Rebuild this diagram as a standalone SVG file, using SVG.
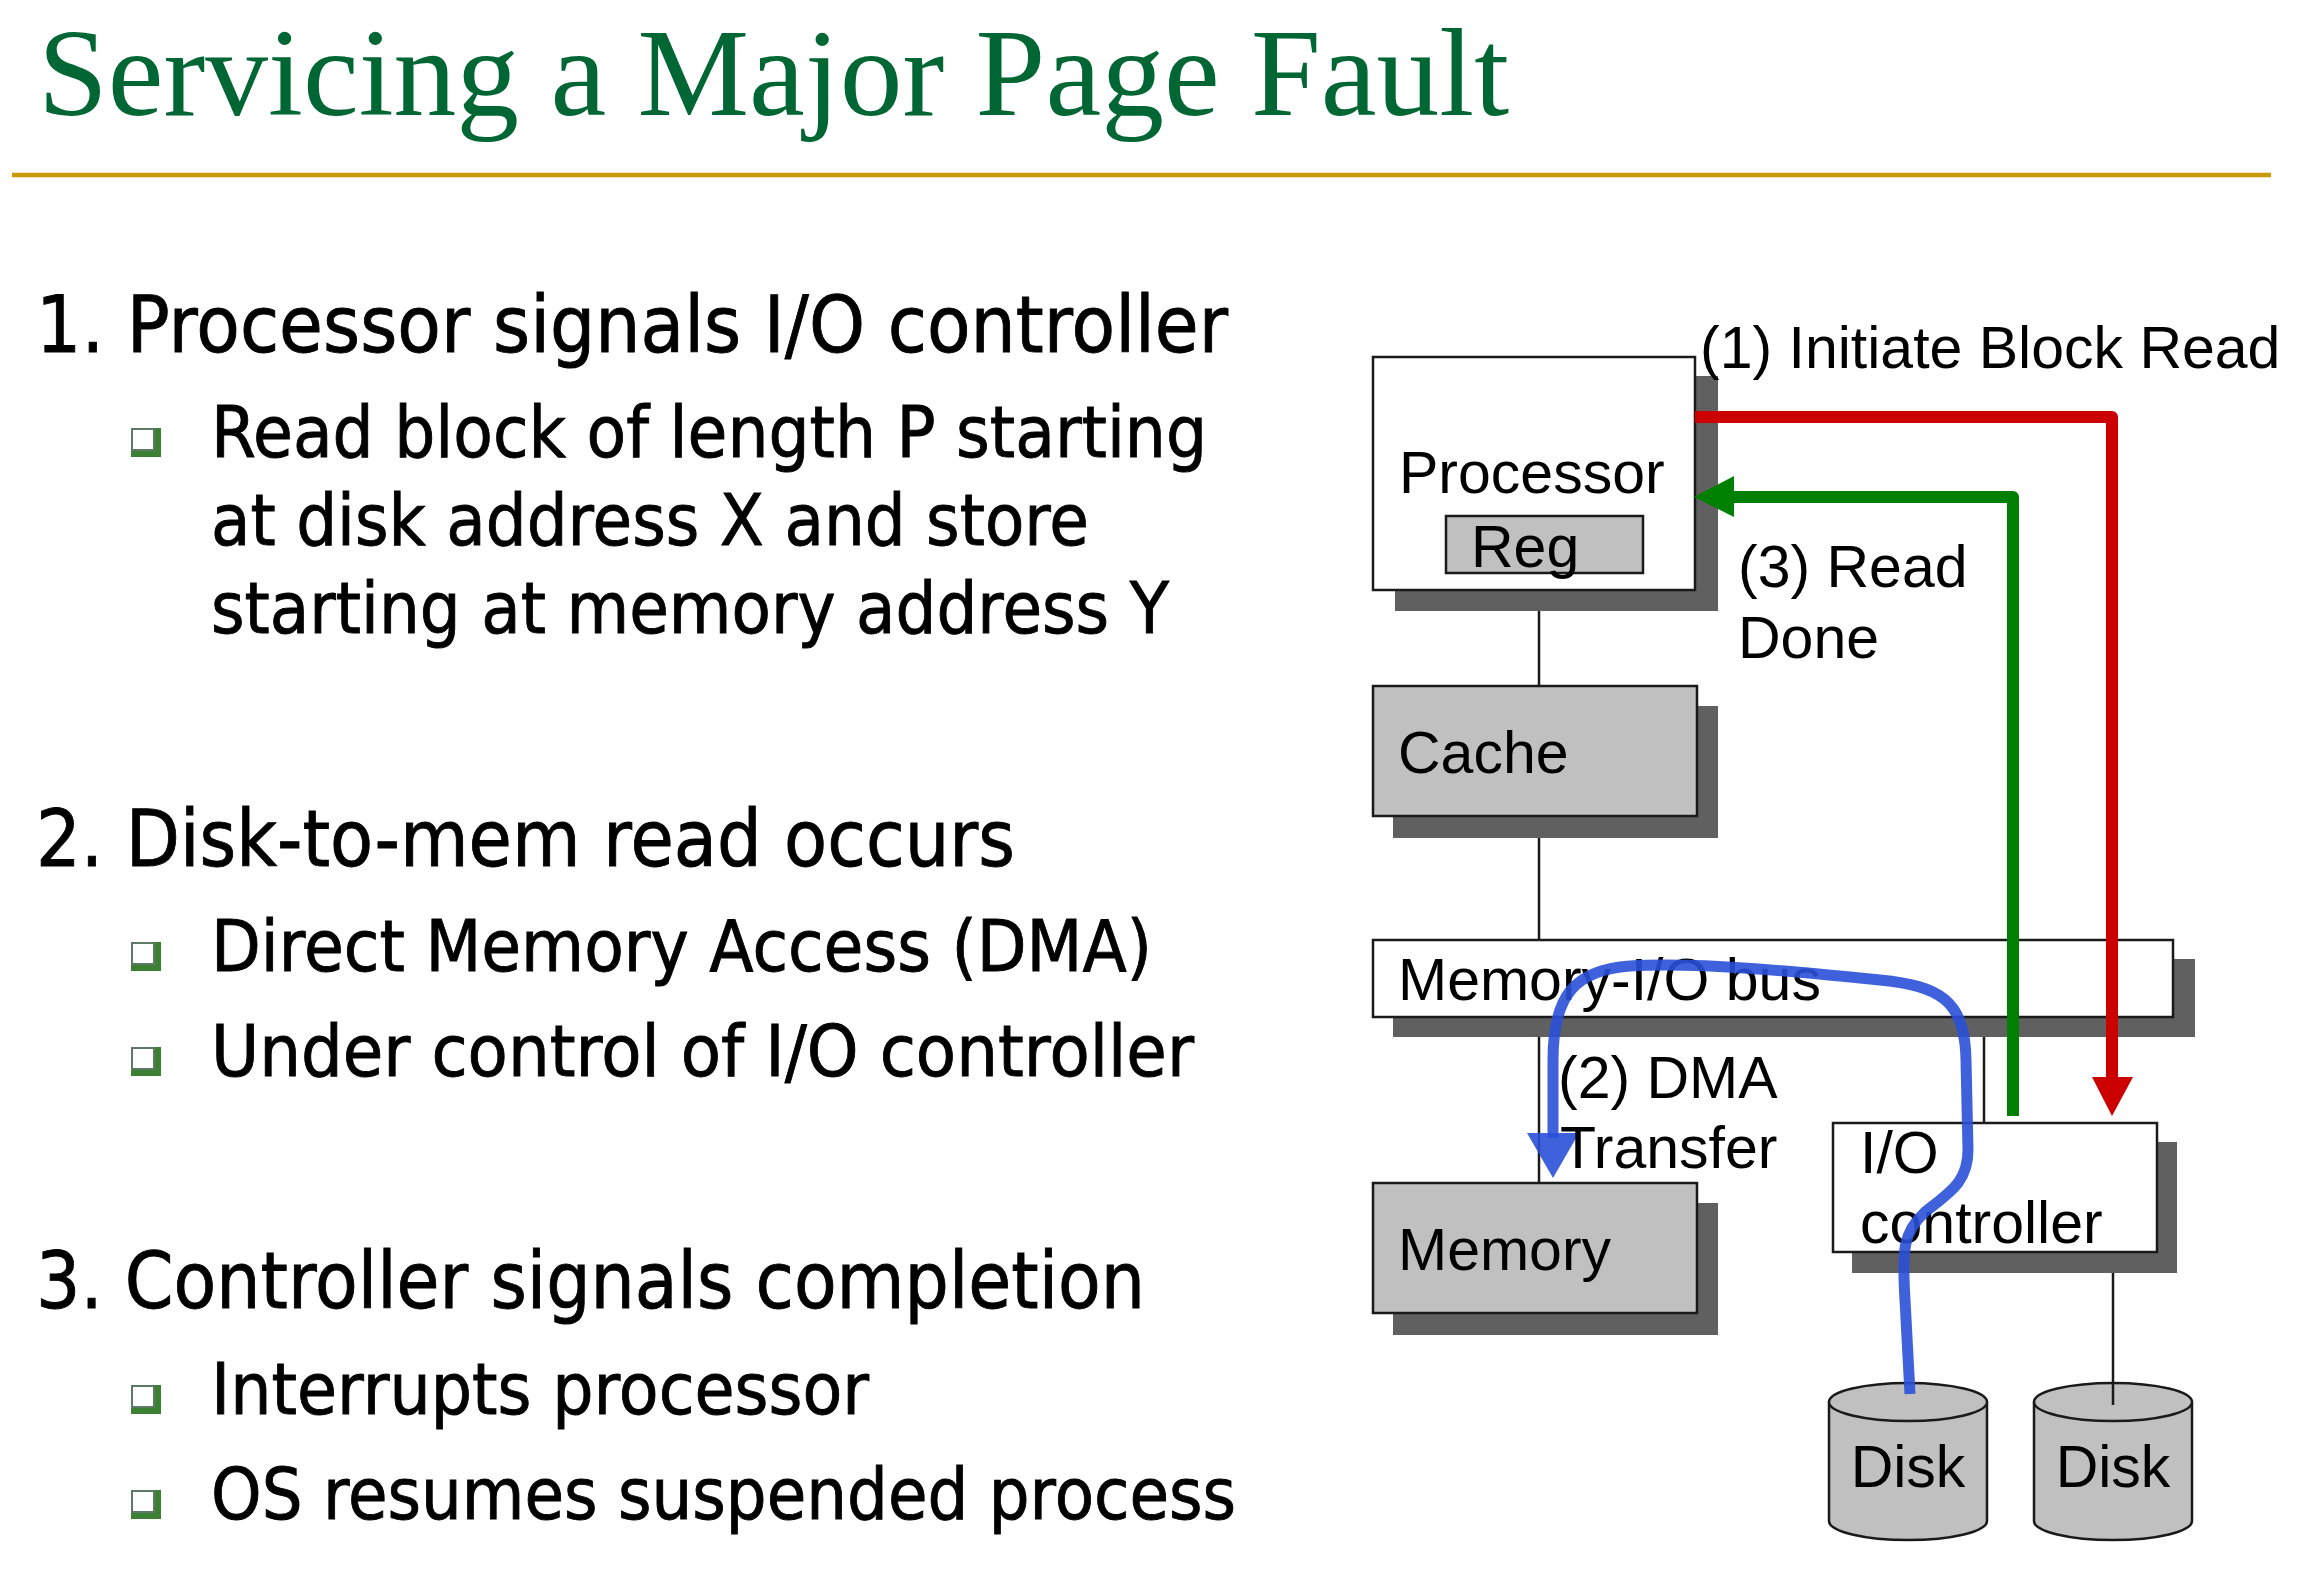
<svg xmlns="http://www.w3.org/2000/svg" width="2320" height="1582" viewBox="0 0 2320 1582">
<style>
.title{font-family:"Liberation Serif","Times New Roman",serif;font-size:125px;fill:#006633}
.h1{font-family:"DejaVu Sans",Verdana,sans-serif;font-size:78px;fill:#000;stroke:#000;stroke-width:0.9}
.h2{font-family:"DejaVu Sans",Verdana,sans-serif;font-size:71px;fill:#000;stroke:#000;stroke-width:0.9}
.lbl{font-family:"Liberation Sans",Arial,sans-serif;font-size:59px;fill:#000}
.box{stroke:#1a1a1a;stroke-width:2.5}
.white{fill:#fff}
.gray{fill:#c0c0c0}
.shadow{fill:#606060}
.wire{stroke:#1a1a1a;stroke-width:2.5;fill:none}
</style>
<defs>
<g id="bullet">
<rect x="0" y="0" width="30" height="29" fill="#3b8033"/>
<rect x="1" y="1" width="22" height="21" fill="#fff" stroke="#5d7a66" stroke-width="2"/>
</g>
</defs>
<rect width="2320" height="1582" fill="#fff"/>

<g id="title">
<text class="title" x="38" y="115" textLength="1471" lengthAdjust="spacingAndGlyphs">Servicing a Major Page Fault</text>
<line x1="12" y1="175" x2="2271" y2="175" stroke="#c99a06" stroke-width="4.5"/>
</g>

<g id="bullets">
<text class="h1" x="36" y="352" textLength="1192" lengthAdjust="spacingAndGlyphs">1. Processor signals I/O controller</text>
<use href="#bullet" x="131" y="428"/>
<text class="h2" x="211" y="457" textLength="996" lengthAdjust="spacingAndGlyphs">Read block of length P starting</text>
<text class="h2" x="211" y="545" textLength="878" lengthAdjust="spacingAndGlyphs">at disk address X and store</text>
<text class="h2" x="211" y="633" textLength="958" lengthAdjust="spacingAndGlyphs">starting at memory address Y</text>

<text class="h1" x="36" y="866" textLength="979" lengthAdjust="spacingAndGlyphs">2. Disk-to-mem read occurs</text>
<use href="#bullet" x="131" y="942"/>
<text class="h2" x="211" y="971" textLength="941" lengthAdjust="spacingAndGlyphs">Direct Memory Access (DMA)</text>
<use href="#bullet" x="131" y="1047"/>
<text class="h2" x="211" y="1076" textLength="983" lengthAdjust="spacingAndGlyphs">Under control of I/O controller</text>

<text class="h1" x="36" y="1308" textLength="1109" lengthAdjust="spacingAndGlyphs">3. Controller signals completion</text>
<use href="#bullet" x="131" y="1385"/>
<text class="h2" x="211" y="1414" textLength="658" lengthAdjust="spacingAndGlyphs">Interrupts processor</text>
<use href="#bullet" x="131" y="1490"/>
<text class="h2" x="211" y="1519" textLength="1025" lengthAdjust="spacingAndGlyphs">OS resumes suspended process</text>
</g>

<g id="wires">
<line class="wire" x1="1539" y1="600" x2="1539" y2="686"/>
<line class="wire" x1="1539" y1="830" x2="1539" y2="940"/>
<line class="wire" x1="1539" y1="1030" x2="1539" y2="1183"/>
<line class="wire" x1="1984" y1="1030" x2="1984" y2="1123"/>
<line class="wire" x1="2113" y1="1265" x2="2113" y2="1405"/>
</g>

<g id="processor">
<rect class="shadow" x="1395" y="376" width="323" height="235"/>
<rect class="box white" x="1373" y="357" width="322" height="233"/>
<text class="lbl" x="1399" y="493">Processor</text>
<rect class="box gray" x="1446" y="516" width="197" height="57"/>
<text class="lbl" x="1471" y="567">Reg</text>
</g>

<g id="cache">
<rect class="shadow" x="1393" y="706" width="325" height="132"/>
<rect class="box gray" x="1373" y="686" width="324" height="130"/>
<text class="lbl" x="1398" y="773">Cache</text>
</g>

<g id="bus">
<rect class="shadow" x="1393" y="959" width="802" height="78"/>
<rect class="box white" x="1373" y="940" width="800" height="77"/>
<text class="lbl" x="1398" y="1000">Memory-I/O bus</text>
</g>

<g id="memory">
<rect class="shadow" x="1393" y="1203" width="325" height="132"/>
<rect class="box gray" x="1373" y="1183" width="324" height="130"/>
<text class="lbl" x="1398" y="1270">Memory</text>
</g>

<g id="io-controller">
<rect class="shadow" x="1852" y="1142" width="325" height="131"/>
<rect class="box white" x="1833" y="1123" width="324" height="129"/>
<text class="lbl" x="1860" y="1173">I/O</text>
<text class="lbl" x="1860" y="1243">controller</text>
</g>

<g id="disk1">
<path class="box gray" d="M1829,1402 L1829,1521 A79,19 0 0 0 1987,1521 L1987,1402"/>
<ellipse class="box gray" cx="1908" cy="1402" rx="79" ry="19"/>
<text class="lbl" x="1908" y="1487" text-anchor="middle">Disk</text>
</g>

<g id="disk2">
<path class="box gray" d="M2034,1402 L2034,1521 A79,19 0 0 0 2192,1521 L2192,1402"/>
<ellipse class="box gray" cx="2113" cy="1402" rx="79" ry="19"/>
<line class="wire" x1="2113" y1="1383" x2="2113" y2="1405"/>
<text class="lbl" x="2113" y="1487" text-anchor="middle">Disk</text>
</g>

<g id="connectors">
<g id="read-request">
<path d="M1695,417 L2112,417 L2112,1080" fill="none" stroke="#cc0000" stroke-width="12" stroke-linejoin="round"/>
<polygon points="2092,1077 2133,1077 2112,1116" fill="#cc0000"/>
<text class="lbl" x="1700" y="368">(1) Initiate Block Read</text>
</g>
<g id="read-done">
<path d="M2013,1116 L2013,497 L1730,497" fill="none" stroke="#008000" stroke-width="12" stroke-linejoin="round"/>
<polygon points="1734,476 1734,517 1694,497" fill="#008000"/>
<text class="lbl" x="1738" y="587">(3) Read</text>
<text class="lbl" x="1738" y="658">Done</text>
</g>
<g id="dma">
<path d="M1910,1394 L1905,1300 C1902,1250 1903,1232 1925,1212 C1950,1192 1968,1182 1968,1150 L1966,1060 C1965,1000 1940,986 1880,980 C1800,972 1700,962 1630,966 C1575,970 1553,995 1553,1060 L1553,1138" fill="none" stroke="#2a50d8" stroke-opacity="0.9" stroke-width="11"/>
<polygon points="1527,1133 1579,1133 1553,1178" fill="#2a50d8" fill-opacity="0.9"/>
<text class="lbl" x="1558" y="1098">(2) DMA</text>
<text class="lbl" x="1560" y="1168">Transfer</text>
</g>
</g>
</svg>
